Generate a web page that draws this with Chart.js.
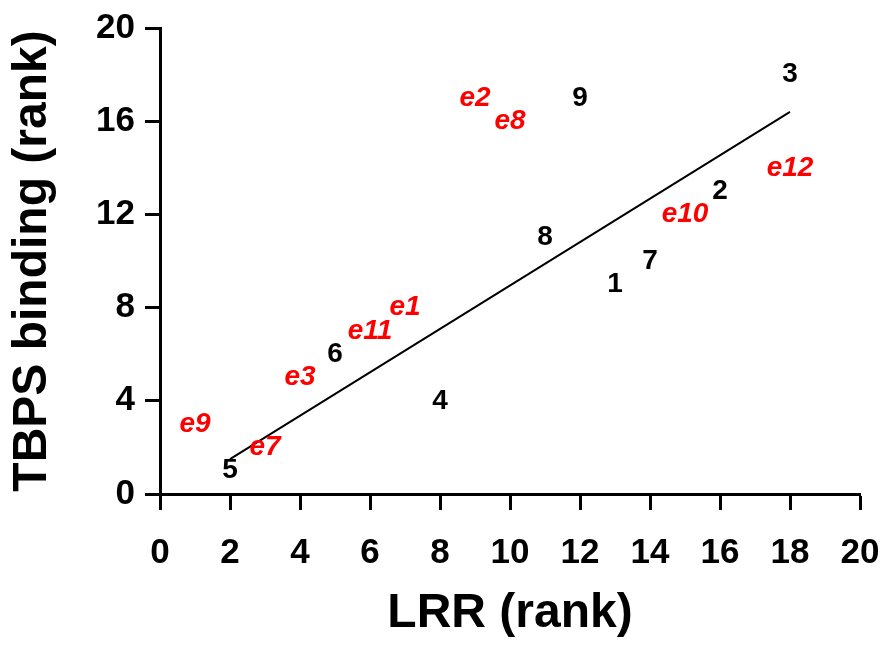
<!DOCTYPE html>
<html>
<head>
<meta charset="utf-8">
<script src="https://cdn.jsdelivr.net/npm/chart.js@4"></script>
<style>
  html, body { margin: 0; padding: 0; background: #fff; }
  #wrap { width: 885px; height: 647px; }
</style>
</head>
<body>
<div id="wrap"><canvas id="chart" width="885" height="647"></canvas></div>
<script>
// compounds (black) - LRR rank vs TBPS binding rank
const blackLabels = ['1', '2', '3', '4', '5', '6', '7', '8', '9'];
const blackX = [13, 16, 18, 8, 2, 5, 14, 11, 12];
const blackY = [9, 13, 18, 4, 1, 6, 10, 11, 17];

// "e" compounds (red)
const redLabels = ['e1', 'e2', 'e3', 'e7', 'e8', 'e9', 'e10', 'e11', 'e12'];
const redX = [7, 9, 4, 3, 10, 1, 15, 6, 18];
const redY = [8, 17, 5, 2, 16, 3, 12, 7, 14];

// fitted line endpoints
const fitX = [2, 18];
const fitY = [1.5, 16.4];

const xTicks = [0, 2, 4, 6, 8, 10, 12, 14, 16, 18, 20];
const yTicks = [0, 4, 8, 12, 16, 20];

const toPoints = (xs, ys) => xs.map((x, i) => ({ x, y: ys[i] }));

// draws each point as its text label at the point's position
const textPoints = {
  id: 'textPoints',
  afterDatasetsDraw(chart) {
    const ctx = chart.ctx;
    chart.data.datasets.forEach((ds, i) => {
      if (!ds.pointText) return;
      const meta = chart.getDatasetMeta(i);
      ctx.save();
      ctx.font = ds.textFont;
      ctx.fillStyle = ds.textColor;
      ctx.textAlign = 'center';
      ctx.textBaseline = 'middle';
      meta.data.forEach((el, j) => {
        ctx.fillText(ds.pointText[j], el.x, el.y);
      });
      ctx.restore();
    });
  }
};

const fontFamily = '"Liberation Sans", Arial, sans-serif';

new Chart(document.getElementById('chart'), {
  type: 'scatter',
  data: {
    datasets: [
      {
        type: 'line',
        data: toPoints(fitX, fitY),
        borderColor: '#000',
        borderWidth: 2,
        pointRadius: 0,
        fill: false
      },
      {
        data: toPoints(blackX, blackY),
        pointRadius: 0,
        pointText: blackLabels,
        textColor: '#000',
        textFont: 'bold 28px ' + fontFamily
      },
      {
        data: toPoints(redX, redY),
        pointRadius: 0,
        pointText: redLabels,
        textColor: '#ff0000',
        textFont: 'italic bold 28px ' + fontFamily
      }
    ]
  },
  options: {
    responsive: false,
    animation: false,
    events: [],
    layout: { padding: 0 },
    plugins: {
      legend: { display: false },
      tooltip: { enabled: false }
    },
    scales: {
      x: {
        type: 'linear',
        min: 0,
        max: 20,
        afterFit: s => {
          s.height = 153;
          s.paddingLeft = 0;
          s.paddingRight = 25;
        },
        afterBuildTicks: s => { s.ticks = xTicks.map(v => ({ value: v })); },
        border: { color: '#000', width: 3 },
        grid: {
          drawOnChartArea: false,
          tickLength: 16,
          tickColor: '#000',
          tickWidth: 3
        },
        ticks: {
          color: '#000',
          padding: 22,
          maxRotation: 0,
          font: { family: fontFamily, size: 35, weight: 'bold' }
        },
        title: {
          display: true,
          text: 'LRR (rank)',
          color: '#000',
          padding: { top: 0, bottom: 9 },
          font: { family: fontFamily, size: 48, weight: 'bold', lineHeight: 1 }
        }
      },
      y: {
        type: 'linear',
        min: 0,
        max: 20,
        afterFit: s => {
          s.width = 160;
          s.paddingTop = 28;
          s.paddingBottom = 0;
        },
        afterBuildTicks: s => { s.ticks = yTicks.map(v => ({ value: v })); },
        border: { color: '#000', width: 3 },
        grid: {
          drawOnChartArea: false,
          tickLength: 15,
          tickColor: '#000',
          tickWidth: 3
        },
        ticks: {
          color: '#000',
          padding: 10,
          font: { family: fontFamily, size: 35, weight: 'bold' }
        },
        title: {
          display: true,
          text: 'TBPS binding (rank)',
          color: '#000',
          padding: { top: 9, bottom: 0 },
          font: { family: fontFamily, size: 48, weight: 'bold', lineHeight: 1 }
        }
      }
    }
  },
  plugins: [textPoints]
});
</script>
</body>
</html>
